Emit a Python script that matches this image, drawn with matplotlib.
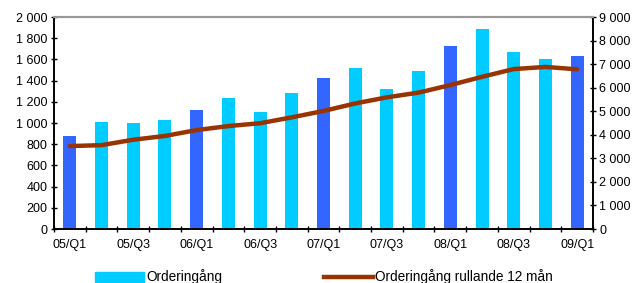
import numpy as np
import matplotlib.pyplot as plt
from matplotlib.patches import Patch
from matplotlib.lines import Line2D

plt.rcParams['font.family'] = ['Liberation Sans', 'DejaVu Sans']

quarters = ['05/Q1', '05/Q2', '05/Q3', '05/Q4', '06/Q1', '06/Q2', '06/Q3', '06/Q4',
            '07/Q1', '07/Q2', '07/Q3', '07/Q4', '08/Q1', '08/Q2', '08/Q3', '08/Q4', '09/Q1']
orders = [880, 1010, 1000, 1030, 1120, 1240, 1100, 1280,
          1420, 1520, 1320, 1490, 1730, 1890, 1670, 1600, 1630]
rolling12 = [3520, 3560, 3790, 3950, 4200, 4370, 4490, 4740,
             5010, 5330, 5590, 5790, 6110, 6460, 6790, 6880, 6780]

cyan = '#00CCFF'
blue = '#3366FF'
brown = '#993300'

x = np.arange(len(quarters))
colors = [blue if q.endswith('Q1') else cyan for q in quarters]

fig = plt.figure(figsize=(6.4, 2.83), dpi=100)
ax = fig.add_axes([54/640, 1-229/283, (593-54)/640, (229-17)/283])
ax2 = ax.twinx()

ax.bar(x, orders, width=0.41, color=colors, zorder=2)
ax2.plot(x, rolling12, color=brown, lw=3.2, solid_capstyle='round', zorder=3)

ax.set_xlim(-0.5, len(quarters) - 0.5)
ax.set_ylim(0, 2000)
ax2.set_ylim(0, 9000)
ax.set_yticks(np.arange(0, 2001, 200))
ax2.set_yticks(np.arange(0, 9001, 1000))
fmt = lambda v: f'{int(v):,}'.replace(',', ' ')
ax.set_yticklabels([fmt(v) for v in ax.get_yticks()], fontsize=9)
ax2.set_yticklabels([fmt(v) for v in ax2.get_yticks()], fontsize=9)

ax.set_xticks(x[::2])
ax.set_xticklabels(quarters[::2], fontsize=9)
ax.set_xticks(np.arange(-0.5, len(quarters), 1), minor=True)
ax.tick_params(axis='x', which='major', length=0, pad=7)
ax.tick_params(axis='x', which='minor', length=5, direction='inout', width=1)
ax.tick_params(axis='y', direction='inout', length=5, width=1, pad=2)
ax2.tick_params(axis='y', direction='inout', length=5, width=1, pad=2)

for a in (ax, ax2):
    a.spines['top'].set_color('#999999')
    a.spines['top'].set_linewidth(1.5)
    a.spines['left'].set_linewidth(1.2)
    a.spines['right'].set_linewidth(1.2)
    a.spines['bottom'].set_linewidth(1.2)

handles = [Patch(color=cyan), Line2D([0], [0], color=brown, lw=3.2)]
fig.legend(handles, ['Orderingång', 'Orderingång rullande 12 mån'],
           loc='center left', bbox_to_anchor=(96/640 - 0.012, 1-277/283), ncol=2,
           frameon=False, fontsize=9.8, handlelength=3.6, handleheight=0.75,
           handletextpad=0.2, columnspacing=7.4, borderpad=0)

fig.savefig('out.png', dpi=100)
